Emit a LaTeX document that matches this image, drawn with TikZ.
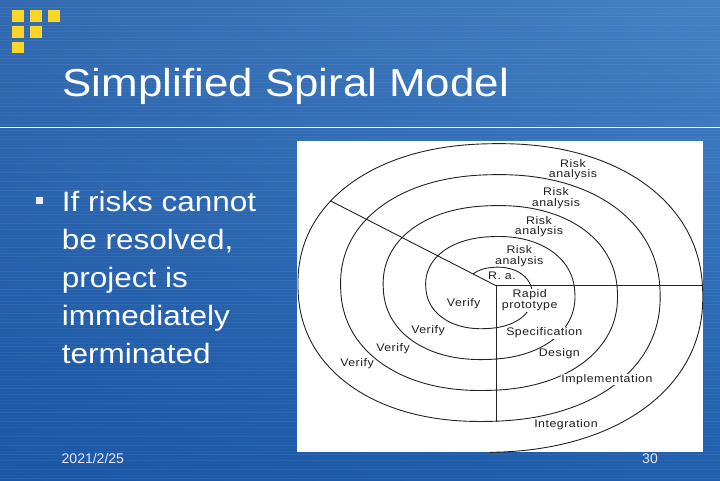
\documentclass[tikz,border=0pt]{standalone}
\usepackage{fontspec}
\usetikzlibrary{shadings}
\setmainfont{Liberation Sans}
\newfontfamily\slidefont[FakeStretch=1.125]{Liberation Sans}
\newfontfamily\figfont[FakeStretch=1.125,LetterSpace=4.5]{Liberation Sans}

\definecolor{bgUL}{RGB}{50,106,176}
\definecolor{bgUR}{RGB}{68,128,196}
\definecolor{bgLL}{RGB}{26,86,166}
\definecolor{bgLR}{RGB}{32,94,174}
\definecolor{logoyellow}{RGB}{250,214,40}
\definecolor{figtext}{RGB}{30,30,30}
\definecolor{figline}{RGB}{35,35,35}

\tikzset{
  slidetitle/.style={font=\slidefont\fontsize{39}{47}\selectfont, text=white, inner sep=0pt},
  bodytext/.style={font=\slidefont\fontsize{28}{38}\selectfont, text=white, align=left, inner sep=0pt},
  footer/.style={font=\fontsize{14}{16}\selectfont, text=white!90!blue, inner sep=0pt},
  figlabel/.style={font=\figfont\fontsize{11}{10.7}\selectfont, text=figtext, align=center, inner sep=0.8pt},
  onring/.style={figlabel, fill=white},
  spiralline/.style={draw=figline, line width=0.9pt},
}

\begin{document}
\begin{tikzpicture}[x=1pt, y=-1pt,
    declare function={
      sx(\t)=\cx+(\ra+\rb*\t)*cos(\t)*(abs(cos(\t))+0.0001)^(\pw-1);
      sy(\t)=\cy+(\va+\vb*\t)*sin(\t)*(abs(sin(\t))+0.0001)^(\pw-1);
    }]
  % パラメータ設定 (スパイラルの中心と半径の増え方)
  \def\cx{489.7}
  \def\cy{290.3}
  \def\ra{42.33} \def\rb{0.1185} % 横方向の半径
  \def\va{30.33} \def\vb{0.0861} % 縦方向の半径
  \def\pw{0.92}                  % 少し角ばった楕円

  % 1. 背景
  \useasboundingbox (0,0) rectangle (720,480);
  \shade[upper left=bgUL, upper right=bgUR, lower left=bgLL, lower right=bgLR] (0,0) rectangle (720,480);
  \foreach \k [evaluate=\k as \op using {0.02+0.05*mod(\k*37,11)/10}] in {0,...,159}
    \draw[white, opacity=\op, line width=0.5pt] (0,3*\k+1) -- (720,3*\k+1);

  % 2. ロゴ (黄色の四角)
  \foreach \i/\j in {0/0, 1/0, 2/0, 0/1, 1/1, 0/2}
    \fill[logoyellow] ({12.3+17.8*\i}, {10+15.8*\j}) rectangle ++(11.7,11.7);

  % 3. タイトルと区切り線
  \node[slidetitle, anchor=base west] (title) at (62.5,96.7) {Simplified Spiral Model};
  \draw[white, line width=1.2pt] (0,127.7) -- (720,127.7);

  % 4. 箇条書き
  \fill[white!92!blue] (36,196.7) rectangle (43.3,204.3);
  \node[bodytext, anchor=north west] (body) at (61.7,191.2)
    {If risks cannot\\be resolved,\\project is\\immediately\\terminated};

  % 5. 図 (白い背景)
  \fill[white] (297.3,141) rectangle (703.3,452.3);

  % スパイラル
  \begin{scope}
    \clip (297.3,141) rectangle (703.3,452.3);
    \draw[spiralline] plot[domain=-125:1530, samples=700, variable=\t, smooth]
      ({sx(\t)}, {sy(\t)});
  \end{scope}

  % 区切りの線
  \coordinate (O) at (496,285.7);
  \coordinate (E) at (703.3,285.7);
  \coordinate (S) at (496,421.7);
  \coordinate (W) at (330.4,200.8);
  \draw[spiralline] (O) -- (E);
  \draw[spiralline] (O) -- (S);
  \draw[spiralline] (O) -- (W);

  % 6. ラベル
  \node[figlabel] (risk1) at (573,169.7) {Risk\\analysis};
  \node[figlabel] (risk2) at (556,198) {Risk\\analysis};
  \node[figlabel] (risk3) at (539,226.8) {Risk\\analysis};
  \node[figlabel] (risk4) at (519.3,256) {Risk\\analysis};
  \node[figlabel] (ra)    at (502,276) {R. a.};
  \node[onring]   (proto) at (529.7,300.3) {Rapid\\prototype};
  \node[figlabel] (ver1)  at (463.7,304) {Verify};
  \node[figlabel] (ver2)  at (428,330.7) {Verify};
  \node[figlabel] (ver3)  at (393,348.4) {Verify};
  \node[figlabel] (ver4)  at (357,364) {Verify};
  \node[onring]   (spec)  at (544.3,333) {Specification};
  \node[figlabel] (design) at (559.3,354) {Design};
  \node[onring]   (impl)  at (607,379.5) {Implementation};
  \node[onring]   (integ) at (566,425) {Integration};

  % 7. フッター
  \node[footer, anchor=base west] (date) at (61.5,463) {2021/2/25};
  \node[footer, anchor=base east] (page) at (658,463) {30};

\end{tikzpicture}
\end{document}
